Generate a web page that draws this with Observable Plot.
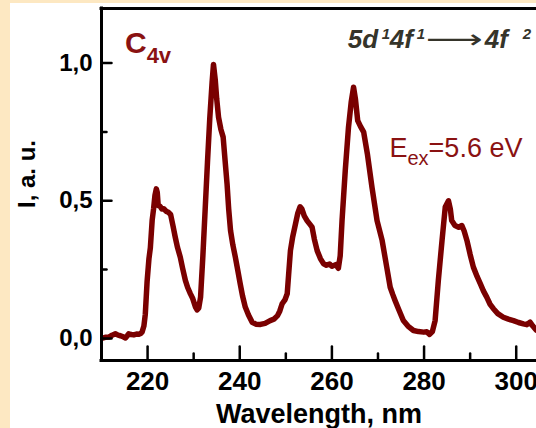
<!DOCTYPE html>
<html><head><meta charset="utf-8">
<script src="https://cdn.jsdelivr.net/npm/d3@7"></script>
<script src="https://cdn.jsdelivr.net/npm/@observablehq/plot@0.6"></script>
<style>
html,body{margin:0;padding:0;background:#fde8c2;width:536px;height:428px;overflow:hidden}
#chart{position:absolute;left:10px;top:3px;width:526px;height:425px;background:#fff}
svg{display:block}
</style></head><body><div id="chart"></div>
<script>
// ---- data ----
const wavelength = [
 210.0,210.8,211.6,212.3,213.0,213.6,214.1,214.7,215.2,215.6,215.9,216.4,217.0,217.6,218.1,218.5,218.8,219.2,219.5,219.9,
 220.3,220.6,221.0,221.3,221.6,221.9,222.1,222.3,222.7,223.1,223.5,224.0,224.5,225.0,225.5,226.0,226.5,227.1,227.6,228.2,
 228.7,229.3,229.8,230.4,230.75,231.1,231.5,232.0,232.5,233.0,233.5,234.0,234.3,234.7,235.0,235.4,235.9,236.4,236.8,237.25,
 237.6,238.0,238.5,239.05,239.6,240.1,240.6,241.2,241.9,242.7,243.5,244.5,245.5,246.6,247.4,248.2,248.7,249.2,249.8,250.3,
 250.6,251.0,251.5,252.1,252.6,253.1,253.5,254.0,254.6,255.2,255.7,256.2,256.8,257.5,258.2,258.8,259.5,260.0,260.4,260.9,
 261.4,261.8,262.2,262.9,263.6,264.2,264.7,265.1,265.6,266.2,266.9,267.7,268.7,269.8,270.9,271.9,272.65,273.2,273.7,274.5,
 275.5,276.5,277.7,278.8,279.9,280.6,281.2,281.8,282.4,283.1,283.9,284.6,285.3,285.7,286.0,286.7,287.5,288.2,288.7,289.3,
 290.0,290.7,291.5,292.2,292.9,293.6,294.3,295.05,296.0,297.2,298.3,299.4,300.5,301.55,302.3,303.0,303.6,304.1,304.4
];
const intensity = [
 0.000,0.004,0.005,0.012,0.017,0.012,0.010,0.006,0.002,0.010,0.017,0.014,0.013,0.016,0.015,0.018,0.023,0.045,0.087,0.208,
 0.290,0.329,0.430,0.470,0.520,0.543,0.530,0.483,0.480,0.470,0.471,0.462,0.458,0.450,0.410,0.368,0.330,0.295,0.255,0.211,
 0.185,0.162,0.145,0.114,0.104,0.110,0.150,0.300,0.470,0.640,0.800,0.930,0.995,0.936,0.870,0.803,0.760,0.731,0.650,0.561,
 0.470,0.392,0.340,0.295,0.245,0.199,0.155,0.114,0.085,0.059,0.052,0.051,0.055,0.065,0.070,0.083,0.100,0.126,0.140,0.162,
 0.230,0.319,0.370,0.416,0.455,0.478,0.470,0.445,0.428,0.415,0.404,0.360,0.319,0.290,0.271,0.266,0.270,0.262,0.265,0.268,
 0.255,0.300,0.428,0.610,0.767,0.860,0.912,0.870,0.791,0.770,0.749,0.670,0.549,0.428,0.356,0.259,0.186,0.160,0.138,0.105,
 0.065,0.045,0.029,0.025,0.023,0.024,0.015,0.025,0.065,0.211,0.356,0.477,0.500,0.470,0.428,0.410,0.404,0.410,0.390,0.356,
 0.305,0.259,0.225,0.199,0.172,0.150,0.125,0.108,0.090,0.077,0.070,0.065,0.058,0.053,0.050,0.059,0.045,0.035,0.030
];
const xDomain = [210, 304.4];
const yDomain = [-0.08, 1.198];
const xMajorTicks = [220, 240, 260, 280, 300];
const xMinorTicks = [230, 250, 270, 290];
const yMajorTicks = [0, 0.5, 1.0];
const yMinorTicks = [0.25, 0.75];
const xTitle = "Wavelength, nm";
const yTitle = "I, a. u.";
const symmetryLabel = ["C", "4v"];
const transitionLabel = ["5d", "1", "4f", "1", "\u27F6", "4f", "2"];
const excitationLabel = ["E", "ex", "=5.6 eV"];

// ---- chart ----
const curveColor = "#7a0000";
const textRed = "#8a1212";
const font = "'Liberation Sans', Arial, sans-serif";
const data = wavelength.map((x, i) => ({x, y: intensity[i]}));
const tickShape = {draw(ctx, l) { ctx.moveTo(0, 0); ctx.lineTo(0, -l); }};
const fmt = d => d.toFixed(1).replace(".", ",");

const plot = Plot.plot({
  width: 526, height: 425,
  marginLeft: 91, marginRight: 0, marginTop: 5, marginBottom: 68,
  x: {domain: xDomain, axis: null},
  y: {domain: yDomain, axis: null},
  style: {background: "white", fontFamily: font, color: "black", overflow: "visible"},
  marks: [
    Plot.line(data, {x: "x", y: "y", stroke: curveColor, strokeWidth: 5.5, strokeLinejoin: "round", strokeLinecap: "round", clip: true}),
    Plot.ruleX([xDomain[0]], {stroke: "black", strokeWidth: 3, strokeLinecap: "square"}),
    Plot.ruleY([yDomain[0], yDomain[1]], {stroke: "black", strokeWidth: 3, strokeLinecap: "square"}),
    Plot.vector(xMajorTicks, {x: d => d, frameAnchor: "bottom", length: 14, rotate: 0, anchor: "start", shape: tickShape, stroke: "black", strokeWidth: 2.5}),
    Plot.vector(xMinorTicks, {x: d => d, frameAnchor: "bottom", length: 7, rotate: 0, anchor: "start", shape: tickShape, stroke: "black", strokeWidth: 2.5}),
    Plot.vector(yMajorTicks, {y: d => d, frameAnchor: "left", length: 10, rotate: 90, anchor: "start", shape: tickShape, stroke: "black", strokeWidth: 2.5}),
    Plot.vector(yMinorTicks, {y: d => d, frameAnchor: "left", length: 5, rotate: 90, anchor: "start", shape: tickShape, stroke: "black", strokeWidth: 2.5}),
    Plot.text(xMajorTicks, {x: d => d, frameAnchor: "bottom", dy: 21, lineAnchor: "middle", text: d => String(d), fontSize: 26, fontWeight: "bold", fill: "black"}),
    Plot.text(yMajorTicks, {y: d => d, frameAnchor: "left", dx: -9, textAnchor: "end", lineAnchor: "middle", text: fmt, fontSize: 24, fontWeight: "bold", fill: "black"}),
    Plot.text([xTitle], {frameAnchor: "bottom", dy: 62, lineAnchor: "bottom", fontSize: 27, fontWeight: "bold", fill: "black"})
  ]
});
document.getElementById("chart").appendChild(plot);

// ---- annotations (placed through the plot's scales) ----
const sx = plot.scale("x"), sy = plot.scale("y");
const svg = d3.select(plot);

function annotate(xv, yv, attrs, spans) {
  const x0 = sx.apply(xv), y0 = sy.apply(yv);
  const t = svg.append("text").attr("x", x0).attr("y", y0).attr("text-anchor", "start");
  for (const [k, v] of Object.entries(attrs)) t.attr(k, v);
  for (const s of spans) {
    const ts = t.append("tspan").text(s.text);
    for (const [k, v] of Object.entries(s)) {
      if (k === "text") continue;
      if (k === "ox") ts.attr("x", x0 + v);
      else if (k === "oy") ts.attr("y", y0 + v);
      else ts.attr(k, v);
    }
  }
}

// y-axis title, rotated, centred on the frame
const frameLeft = sx.apply(xDomain[0]);
const frameMid = (sy.apply(yDomain[0]) + sy.apply(yDomain[1])) / 2;
svg.append("text")
  .attr("transform", `translate(${frameLeft - 66},${frameMid - 10}) rotate(-90)`)
  .attr("text-anchor", "middle")
  .attr("font-family", font).attr("font-size", 24).attr("font-weight", "bold").attr("fill", "black")
  .text(yTitle);

annotate(215.2, 1.033, {fill: textRed, "font-family": font, "font-weight": "bold"}, [
  {text: symmetryLabel[0], "font-size": 30},
  {text: symmetryLabel[1], "font-size": 22, dy: 10}
]);

annotate(263.55, 1.0515, {fill: "#35342a", "font-family": font, "font-weight": "bold", "font-style": "italic"}, [
  {text: transitionLabel[0], "font-size": 26, ox: 0, oy: 0},
  {text: transitionLabel[1], "font-size": 15, ox: 34, oy: -9},
  {text: transitionLabel[2], "font-size": 26, ox: 42, oy: 0},
  {text: transitionLabel[3], "font-size": 15, ox: 69, oy: -9},
  {text: transitionLabel[4], "font-size": 26, ox: 78, oy: 0, textLength: 57, lengthAdjust: "spacingAndGlyphs", "font-style": "normal", "font-weight": "normal", "font-family": "DejaVu Sans"},
  {text: transitionLabel[5], "font-size": 26, ox: 137, oy: 0},
  {text: transitionLabel[6], "font-size": 15, ox: 175, oy: -9}
]);

annotate(272.6, 0.657, {fill: textRed, "font-family": font}, [
  {text: excitationLabel[0], "font-size": 27},
  {text: excitationLabel[1], "font-size": 20, dy: 8},
  {text: excitationLabel[2], "font-size": 27, dy: -8}
]);
</script></body></html>
